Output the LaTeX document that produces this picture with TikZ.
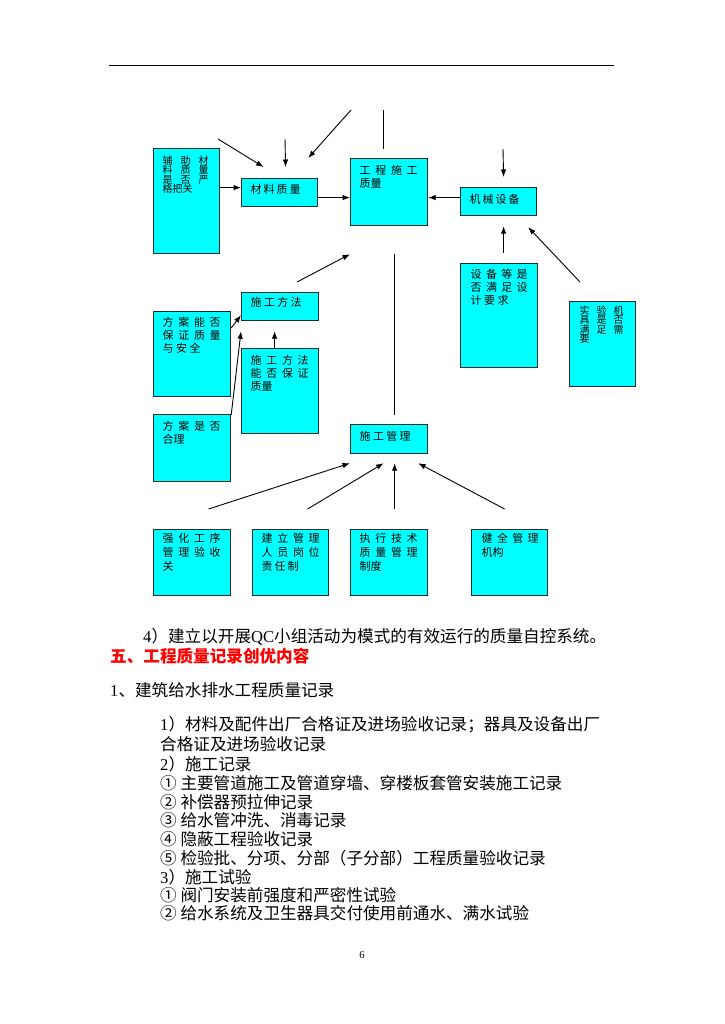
\documentclass[tikz,border=0pt]{standalone}
\usepackage{fontspec}
\setmainfont{Liberation Serif}
\newfontfamily\cjk{Noto Sans CJK SC}
\usetikzlibrary{arrows.meta}
\newcommand\jrow[2]{\makebox[#1][s]{#2}}
\newcommand\lat[1]{{\rmfamily #1}}
\definecolor{boxline}{RGB}{25,45,45}
\definecolor{boxfill}{RGB}{0,255,255}
\definecolor{headred}{RGB}{255,0,0}
\begin{document}
\begin{tikzpicture}[x=1pt,y=-1pt,
  box/.style={draw=boxline, fill=boxfill, line width=1.2pt, inner sep=0pt, anchor=north west},
  bt/.style={anchor=north west, inner sep=0pt, align=left, font=\cjk\fontsize{11}{13}\selectfont},
  btsmall/.style={anchor=north west, inner sep=0pt, align=left, font=\cjk\fontsize{10}{9.6}\selectfont},
  bts/.style={anchor=west, inner sep=0pt, font=\cjk\fontsize{11}{13}\selectfont},
  body/.style={anchor=west, inner sep=0pt, font=\cjk\fontsize{16.6}{18.7}\selectfont},
  arr/.style={-{Latex[length=7.5pt,width=5.5pt]}, line width=0.9pt},
  ln/.style={line width=0.9pt}]
\useasboundingbox (0,0) rectangle (724,1024);
\fill[white] (0,0) rectangle (724,1024);

% header rule
\draw[line width=0.8pt] (109,65) -- (614,65);

% boxes
\node[box, minimum width=66pt, minimum height=105pt] (fz) at (153,148) {};
\node[box, minimum width=76pt, minimum height=28pt] (cl) at (241,178) {};
\node[box, minimum width=77pt, minimum height=67pt] (gc) at (350,158) {};
\node[box, minimum width=76pt, minimum height=28pt] (jx) at (460,187) {};
\node[box, minimum width=77pt, minimum height=104pt] (sb) at (460,263) {};
\node[box, minimum width=66pt, minimum height=85pt] (sy) at (569,301) {};
\node[box, minimum width=77pt, minimum height=28pt] (ff) at (241,292) {};
\node[box, minimum width=77pt, minimum height=85pt] (fa) at (153,311) {};
\node[box, minimum width=77pt, minimum height=85pt] (fb) at (241,348) {};
\node[box, minimum width=77pt, minimum height=67pt] (fh) at (153,414) {};
\node[box, minimum width=77pt, minimum height=29pt] (gl) at (350,424) {};
\node[box, minimum width=77pt, minimum height=66pt] (b1) at (153,529) {};
\node[box, minimum width=76pt, minimum height=66pt] (b2) at (252,529) {};
\node[box, minimum width=77pt, minimum height=66pt] (b3) at (350,529) {};
\node[box, minimum width=76pt, minimum height=66pt] (b4) at (471,529) {};

% box texts
\node[btsmall] (fzt) at (162.5,155.5) {\jrow{46pt}{辅\hfill 助\hfill 材}\\\jrow{46pt}{料\hfill 质\hfill 量}\\\jrow{46pt}{是\hfill 否\hfill 严}\\格把关};
\node[bts] (clt) at (250.5,189.5) {\jrow{50pt}{材\hfill 料\hfill 质\hfill 量}};
\node[bt] (gct) at (359.5,165) {\jrow{58pt}{工\hfill 程\hfill 施\hfill 工}\\质量};
\node[bts] (jxt) at (469.5,199) {\jrow{50pt}{机\hfill 械\hfill 设\hfill 备}};
\node[bt] (sbt) at (470.5,269) {\jrow{57pt}{设\hfill 备\hfill 等\hfill 是}\\\jrow{57pt}{否\hfill 满\hfill 足\hfill 设}\\\jrow{38pt}{计\hfill 要\hfill 求}};
\node[btsmall] (syt) at (579.5,305.5) {\jrow{44pt}{实\hfill 验\hfill 机}\\\jrow{44pt}{具\hfill 是\hfill 否}\\\jrow{44pt}{满\hfill 足\hfill 需}\\要};
\node[bts] (fft) at (250.5,302) {\jrow{51pt}{施\hfill 工\hfill 方\hfill 法}};
\node[bt] (fat) at (162.5,317) {\jrow{58pt}{方\hfill 案\hfill 能\hfill 否}\\\jrow{58pt}{保\hfill 证\hfill 质\hfill 量}\\\jrow{38pt}{与\hfill 安\hfill 全}};
\node[bt] (fbt) at (250.5,355) {\jrow{58pt}{施\hfill 工\hfill 方\hfill 法}\\\jrow{58pt}{能\hfill 否\hfill 保\hfill 证}\\质量};
\node[bt] (fht) at (162.5,421) {\jrow{58pt}{方\hfill 案\hfill 是\hfill 否}\\合理};
\node[bts] (glt) at (359.5,436) {\jrow{51pt}{施\hfill 工\hfill 管\hfill 理}};
\node[bt, font=\cjk\fontsize{11}{14}\selectfont] (b1t) at (162.5,533) {\jrow{58pt}{强\hfill 化\hfill 工\hfill 序}\\\jrow{58pt}{管\hfill 理\hfill 验\hfill 收}\\关};
\node[bt, font=\cjk\fontsize{11}{14}\selectfont] (b2t) at (261.5,533) {\jrow{58pt}{建\hfill 立\hfill 管\hfill 理}\\\jrow{58pt}{人\hfill 员\hfill 岗\hfill 位}\\\jrow{37pt}{责\hfill 任\hfill 制}};
\node[bt, font=\cjk\fontsize{11}{14}\selectfont] (b3t) at (359.5,533) {\jrow{58pt}{执\hfill 行\hfill 技\hfill 术}\\\jrow{58pt}{质\hfill 量\hfill 管\hfill 理}\\制度};
\node[bt, font=\cjk\fontsize{11}{14}\selectfont] (b4t) at (481.5,533) {\jrow{57pt}{健\hfill 全\hfill 管\hfill 理}\\机构};

% free ends
\coordinate (s1) at (218,139);
\coordinate (s2) at (285,139);
\coordinate (s3) at (351,110);
\coordinate (s4) at (503,149);
\coordinate (s5) at (297,282);

% connectors
\path ([yshift=5pt]cl.west) coordinate (cla);
\draw[arr] (fz.east |- cla) -- (cla);
\draw[arr] (s1) -- ([xshift=-16pt,yshift=11pt]cl.north);
\draw[arr] (s2) -- ([xshift=6pt,yshift=11pt]cl.north);
\draw[arr] (s3) -- ([xshift=-10pt,yshift=20pt]cl.north east);
\path ([yshift=-5pt]cl.east) coordinate (clb);
\draw[arr] (clb) -- (gc.west |- clb);
\draw[ln] ([xshift=-5.5pt,yshift=48pt]gc.north) -- ([xshift=-5.5pt,yshift=9pt]gc.north);
\path ([yshift=4pt]jx.west) coordinate (jxa);
\draw[arr] (jxa) -- (gc.east |- jxa);
\draw[arr] (s4) -- ([xshift=5pt,yshift=10pt]jx.north);
\draw[arr] ([xshift=4.5pt,yshift=10pt]sb.north) -- ([xshift=5pt,yshift=-10pt]jx.south);
\draw[arr] ([xshift=11pt,yshift=19pt]sy.north west) -- ([xshift=-9pt,yshift=-11pt]jx.south east);
\draw[arr] (s5) -- ([yshift=-28pt]gc.south west);
\draw[ln] ([xshift=5.5pt,yshift=-28pt]gc.south) -- ([xshift=5.5pt,yshift=9pt]gl.north);
\draw[arr] ([yshift=-17pt]fa.north east) -- ([yshift=6pt]ff.south west);
\draw[arr] ([yshift=-1pt]fh.north east) -- ([yshift=-10pt]ff.south west);
\draw[arr] ([xshift=-5.5pt]fb.north) -- ([xshift=-5.5pt,yshift=-10pt]ff.south);
\draw[arr] ([xshift=16.5pt,yshift=20pt]b1.north) -- ([yshift=-9pt]gl.south west);
\draw[arr] ([xshift=17pt,yshift=20pt]b2.north) -- ([xshift=-5.5pt,yshift=-9pt]gl.south);
\draw[arr] ([xshift=5.5pt,yshift=20pt]b3.north) -- ([xshift=5.5pt,yshift=-9pt]gl.south);
\draw[arr] ([xshift=-5pt,yshift=20pt]b4.north) -- ([xshift=-10pt,yshift=-9pt]gl.south east);

% body text
\node[body] (t1) at (143,637) {\lat{4}）建立以开展\lat{QC}小组活动为模式的有效运行的质量自控系统。};
\node[body, font=\cjk\bfseries\fontsize{16.6}{18.7}\selectfont, text=headred] (t2) at (110,656) {五、工程质量记录创优内容};
\node[body] (t3) at (110,690) {\lat{1}、建筑给水排水工程质量记录};
\node[body] (t4) at (160,725) {\lat{1}）材料及配件出厂合格证及进场验收记录；器具及设备出厂};
\node[body] (t5) at (160,744) {合格证及进场验收记录};
\node[body] (t6) at (160,764) {\lat{2}）施工记录};
\node[body] (t7) at (160,783) {① 主要管道施工及管道穿墙、穿楼板套管安装施工记录};
\node[body] (t8) at (160,802) {② 补偿器预拉伸记录};
\node[body] (t9) at (160,820) {③ 给水管冲洗、消毒记录};
\node[body] (t10) at (160,839) {④ 隐蔽工程验收记录};
\node[body] (t11) at (160,858) {⑤ 检验批、分项、分部（子分部）工程质量验收记录};
\node[body] (t12) at (160,877) {\lat{3}）施工试验};
\node[body] (t13) at (160,895) {① 阀门安装前强度和严密性试验};
\node[body] (t14) at (160,913) {② 给水系统及卫生器具交付使用前通水、满水试验};
\node[font=\fontsize{10.5}{12}\selectfont, inner sep=0pt] (pg) at (362,955) {6};
\end{tikzpicture}
\end{document}
